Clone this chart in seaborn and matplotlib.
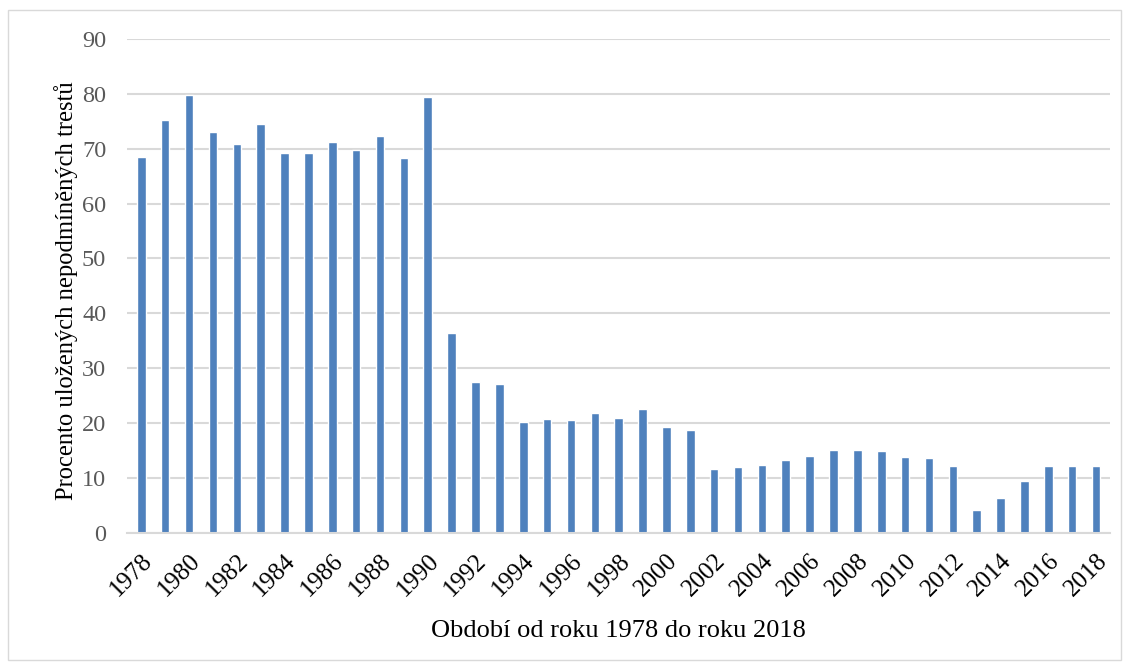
import matplotlib
matplotlib.use("Agg")
import matplotlib.pyplot as plt
import seaborn as sns
import pandas as pd
from matplotlib.patches import Rectangle

years = list(range(1978, 2019))
values = [68.5, 75.2, 79.8, 73.0, 70.9, 74.5, 69.2, 69.2, 71.2, 69.8, 72.3, 68.3, 79.4,
          36.4, 27.5, 27.1, 20.2, 20.8, 20.6, 21.9, 20.9, 22.6, 19.3, 18.8,
          11.7, 12.0, 12.4, 13.3, 14.0, 15.1, 15.1, 14.9, 13.8, 13.7, 12.2,
          4.2, 6.4, 9.5, 12.2, 12.2, 12.2]
yticks = list(range(0, 100, 10))
ylabel = "Procento uložených nepodmíněných trestů"
xlabel = "Období od roku 1978 do roku 2018"

sns.set_theme(style="white")
plt.rcParams['font.family'] = ['Liberation Serif', 'DejaVu Serif']

df = pd.DataFrame({"year": [str(y) for y in years], "value": values})

fig = plt.figure(figsize=(11.29, 6.68), dpi=100)
ax = fig.add_axes([0.1125, 0.202, 0.871, 0.740])
sns.barplot(data=df, x="year", y="value", color="#4f81bd", saturation=1, width=0.36, ax=ax)

ax.set_ylim(0, 90)
ax.set_yticks(yticks)
ax.set_yticklabels([str(t) for t in yticks], fontsize=17.5, color="#595959")
ax.yaxis.grid(True, color="#d9d9d9", linewidth=1.5)
ax.set_axisbelow(True)
ax.set_xlim(-0.6, len(years) - 0.4)
pos = list(range(0, len(years), 2))
ax.set_xticks(pos)
ax.set_xticklabels([str(years[i]) for i in pos], rotation=45, ha="right",
                   rotation_mode="anchor", fontsize=18, color="black")
ax.tick_params(axis="y", length=0, pad=15)
ax.tick_params(axis="x", length=0, pad=12)
for s in ["top", "right", "left"]:
    ax.spines[s].set_visible(False)
ax.spines["bottom"].set_color("#d9d9d9")
ax.spines["bottom"].set_linewidth(1.5)
ax.set_ylabel(ylabel, fontsize=17.7, color="black")
ax.yaxis.set_label_coords(-0.050, 0.49)
ax.set_xlabel(xlabel, fontsize=19, color="black", labelpad=14)

fig.patches.append(Rectangle((0.007, 0.012), 0.986, 0.973, transform=fig.transFigure,
                             fill=False, edgecolor="#d9d9d9", linewidth=1))
fig.savefig("out.png", dpi=100)
